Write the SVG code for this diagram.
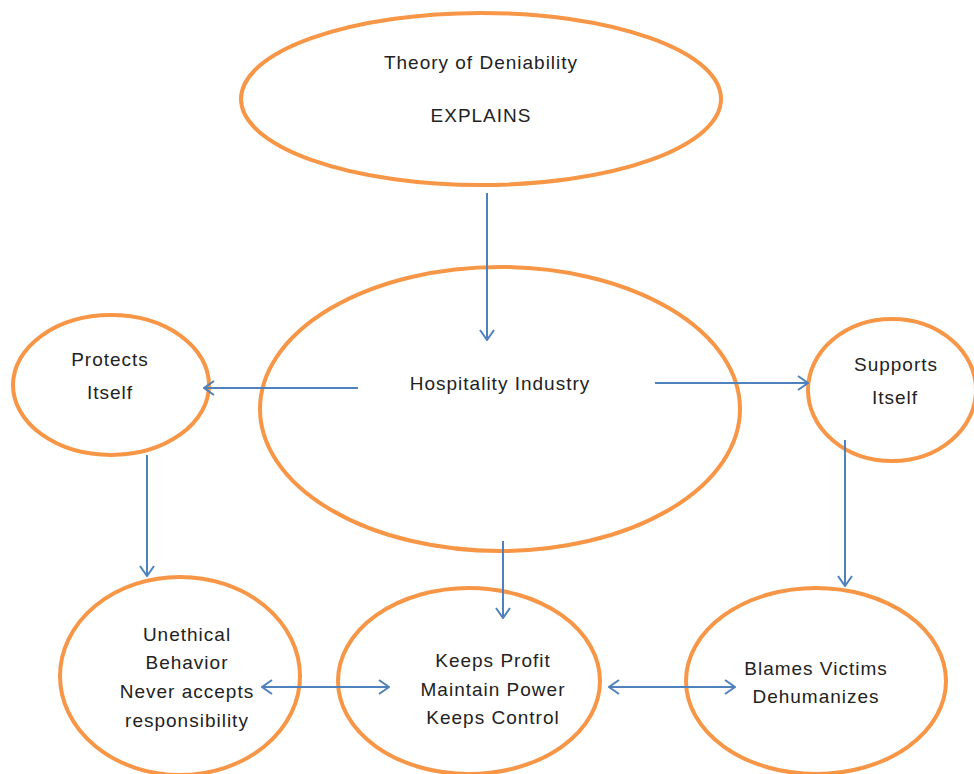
<svg xmlns="http://www.w3.org/2000/svg" width="974" height="774" viewBox="0 0 974 774">
<defs>
<marker id="ah" viewBox="0 0 12 16" refX="11" refY="8" markerWidth="12" markerHeight="16" markerUnits="userSpaceOnUse" orient="auto-start-reverse">
<path d="M1,1 L11,8 L1,15" fill="none" stroke="#4F81BD" stroke-width="2"/>
</marker>
<style>
.n{fill:#fff;stroke:#F79646;stroke-width:4}
.t{font-family:"Liberation Sans",Arial,sans-serif;font-size:19px;letter-spacing:1px;fill:#222;text-anchor:middle}
.c{stroke:#4F81BD;stroke-width:2;fill:none;marker-end:url(#ah)}
.d{marker-start:url(#ah)}
</style>
</defs>
<rect width="974" height="774" fill="#fff"/>
<g id="theory"><ellipse class="n" cx="481" cy="99" rx="240" ry="86"/>
<text class="t" x="481" y="69">Theory of Deniability</text>
<text class="t" x="481" y="122">EXPLAINS</text></g>
<g id="hospitality"><ellipse class="n" cx="500" cy="409" rx="240" ry="142"/>
<text class="t" x="500" y="390">Hospitality Industry</text></g>
<g id="protects"><ellipse class="n" cx="111" cy="385" rx="98" ry="70"/>
<text class="t" x="110" y="366">Protects</text>
<text class="t" x="110" y="399">Itself</text></g>
<g id="supports"><ellipse class="n" cx="892" cy="390" rx="84" ry="71"/>
<text class="t" x="896" y="371">Supports</text>
<text class="t" x="895" y="404">Itself</text></g>
<g id="unethical"><ellipse class="n" cx="180" cy="676" rx="120" ry="99"/>
<text class="t" x="187" y="641">Unethical</text>
<text class="t" x="187" y="669">Behavior</text>
<text class="t" x="187" y="698">Never accepts</text>
<text class="t" x="187" y="727">responsibility</text></g>
<g id="keeps"><ellipse class="n" cx="469" cy="681" rx="131" ry="93"/>
<text class="t" x="493" y="667">Keeps Profit</text>
<text class="t" x="493" y="696">Maintain Power</text>
<text class="t" x="493" y="724">Keeps Control</text></g>
<g id="blames"><ellipse class="n" cx="816" cy="681" rx="130" ry="93"/>
<text class="t" x="816" y="675">Blames Victims</text>
<text class="t" x="816" y="703">Dehumanizes</text></g>
<g id="connectors">
<line class="c" x1="487" y1="193" x2="487" y2="340"/>
<line class="c" x1="358" y1="388" x2="204" y2="388"/>
<line class="c" x1="655" y1="383" x2="808" y2="383"/>
<line class="c" x1="147" y1="455" x2="147" y2="576"/>
<line class="c" x1="845" y1="440" x2="845" y2="586"/>
<line class="c" x1="503" y1="541" x2="503" y2="618"/>
<line class="c d" x1="262" y1="687" x2="389" y2="687"/>
<line class="c d" x1="609" y1="687" x2="735" y2="687"/>
</g>
</svg>
